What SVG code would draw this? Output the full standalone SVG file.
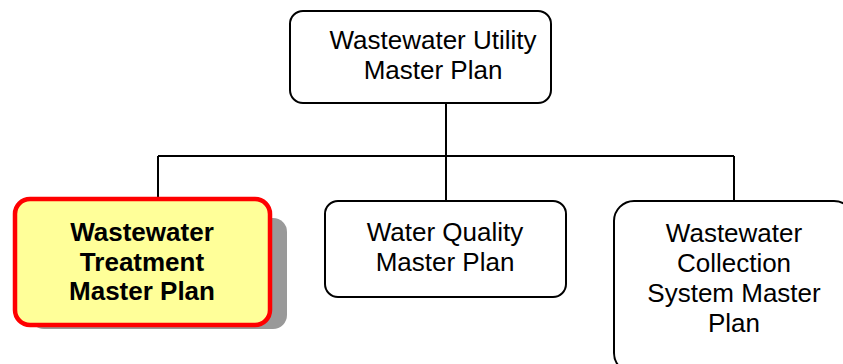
<svg xmlns="http://www.w3.org/2000/svg" width="843" height="364" viewBox="0 0 843 364">
<style>
.box{fill:#fff;stroke:#000;stroke-width:2}
.t{font-family:"Liberation Sans",Arial,sans-serif;font-size:26px;fill:#000;text-anchor:middle}
.b{font-weight:bold}
.c{fill:none;stroke:#000;stroke-width:2}
</style>
<rect width="843" height="364" fill="#fff"/>
<g id="connectors">
<path class="c" d="M446 103V201M158 156H734M158 156V199M734 156V200"/>
</g>
<g id="n-utility">
<rect class="box" x="290" y="11" width="261" height="92" rx="13"/>
<text class="t" x="433" y="49">Wastewater Utility</text>
<text class="t" x="433" y="79">Master Plan</text>
</g>
<g id="n-treatment">
<rect x="30" y="218" width="257" height="111" rx="14" fill="#999"/>
<rect x="15" y="199" width="255" height="126" rx="15" fill="#ffff99" stroke="#ff0000" stroke-width="4.5"/>
<text class="t b" x="142" y="241">Wastewater</text>
<text class="t b" x="142" y="271">Treatment</text>
<text class="t b" x="142" y="300">Master Plan</text>
</g>
<g id="n-quality">
<rect class="box" x="325" y="201" width="241" height="96" rx="13"/>
<text class="t" x="445" y="241">Water Quality</text>
<text class="t" x="445" y="271">Master Plan</text>
</g>
<g id="n-collection">
<rect class="box" x="614" y="201" width="240" height="172" rx="20"/>
<text class="t" x="734" y="242">Wastewater</text>
<text class="t" x="734" y="272">Collection</text>
<text class="t" x="734" y="302">System Master</text>
<text class="t" x="734" y="332">Plan</text>
</g>
</svg>
